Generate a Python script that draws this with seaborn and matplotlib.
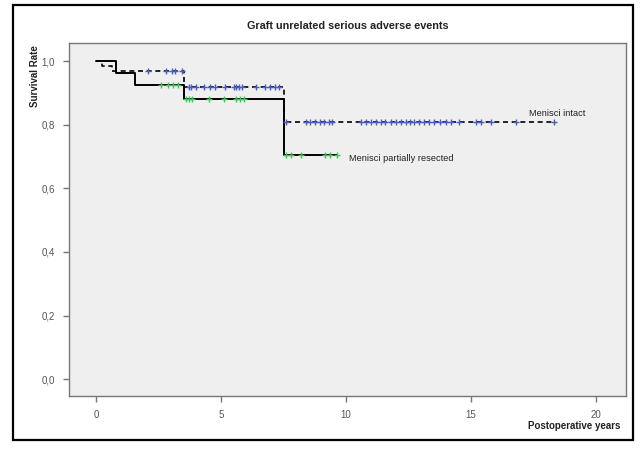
import numpy as np
import pandas as pd
import matplotlib.pyplot as plt
import seaborn as sns
from matplotlib.patches import Rectangle
from matplotlib.ticker import FuncFormatter

sns.set_theme(style='white')
plt.rcParams['font.family'] = ['Liberation Sans', 'DejaVu Sans']

# step curves: event times and survival after each step (last entry = end of follow-up)
resected_t = [0, 0.8, 1.55, 3.52, 7.52, 9.65]
resected_s = [1.0, 0.963, 0.926, 0.880, 0.704, 0.704]
intact_t = [0, 0.25, 0.65, 3.5, 7.5, 18.3]
intact_s = [1.0, 0.985, 0.970, 0.918, 0.808, 0.808]

# censored observations (years)
resected_cens = [2.6, 2.9, 3.1, 3.3, 3.6, 3.7, 3.85, 4.5, 5.1, 5.6, 5.75, 5.9,
                 7.6, 7.8, 8.2, 9.16, 9.36, 9.62]
intact_cens = [2.1, 2.8, 3.05, 3.15, 3.45,
               3.7, 3.8, 4.0, 4.3, 4.55, 4.75, 5.15, 5.5, 5.6, 5.7, 5.85, 6.4, 6.75, 6.95, 7.15, 7.3,
               7.6, 8.4, 8.55, 8.75, 8.95, 9.1, 9.3, 9.45, 10.6, 10.8, 11.0, 11.2, 11.4, 11.55, 11.8,
               12.0, 12.2, 12.4, 12.55, 12.7, 12.9, 13.1, 13.3, 13.5, 13.75, 14.0, 14.2, 14.5,
               15.2, 15.4, 15.8, 16.8, 18.3]

x_ticks = [0, 5, 10, 15, 20]
y_ticks = [0.0, 0.2, 0.4, 0.6, 0.8, 1.0]


def level_at(times, surv, pts):
    idx = np.searchsorted(times, pts, side='right') - 1
    return np.asarray(surv)[idx]


fig = plt.figure(figsize=(6.43, 4.51), dpi=100)
ax = fig.add_axes([0.1073, 0.122, 0.8663, 0.7827])
ax.set_facecolor('#efefef')

res_df = pd.DataFrame({'t': resected_t, 's': resected_s})
int_df = pd.DataFrame({'t': intact_t, 's': intact_s})

sns.lineplot(data=res_df, x='t', y='s', ax=ax, estimator=None, drawstyle='steps-post',
             color='black', lw=1.4)
sns.lineplot(data=int_df, x='t', y='s', ax=ax, estimator=None, drawstyle='steps-post',
             color='black', lw=1.2, dashes=False, linestyle=(0, (3, 2.2)))

res_c = pd.DataFrame({'t': resected_cens, 's': level_at(resected_t, resected_s, resected_cens)})
int_c = pd.DataFrame({'t': intact_cens, 's': level_at(intact_t, intact_s, intact_cens)})
sns.scatterplot(data=int_c, x='t', y='s', ax=ax, marker='+', s=24, color='#4a5cc0', linewidth=1.0, zorder=3)
sns.scatterplot(data=res_c, x='t', y='s', ax=ax, marker='+', s=24, color='#3cc45a', linewidth=1.0, zorder=3)

ax.text(17.3, 0.836, 'Menisci intact', fontsize=6.7, color='#222222', ha='left', va='center')
ax.text(10.1, 0.695, 'Menisci partially resected', fontsize=6.7, color='#222222', ha='left', va='center')

ax.set_xlim(-1.08, 21.2)
ax.set_ylim(-0.053, 1.057)
ax.set_xticks(x_ticks)
ax.set_yticks(y_ticks)
ax.yaxis.set_major_formatter(FuncFormatter(lambda v, p: f'{v:.1f}'.replace('.', ',')))
ax.tick_params(axis='both', which='major', direction='out', length=4, width=1, color='#777777',
               labelsize=7, labelcolor='#555555', pad=6, left=True, bottom=True)
ax.set_xlabel('')
ax.set_ylabel('')
for sp in ax.spines.values():
    sp.set_color('#777777')
    sp.set_linewidth(1.0)

fig.text(348 / 643, 1 - 26 / 451, 'Graft unrelated serious adverse events', fontsize=7.8,
         fontweight='bold', ha='center', va='center', color='#222222')
fig.text(35 / 643, 1 - 45 / 451, 'Survival Rate', fontsize=7, fontweight='bold', rotation=90,
         ha='center', va='top', color='#222222')
fig.text(620 / 643, 1 - 426 / 451, 'Postoperative years', fontsize=7, fontweight='bold',
         ha='right', va='center', color='#222222')

fig.patches.append(Rectangle((13 / 643, 1 - 440 / 451), 620 / 643, 435 / 451, transform=fig.transFigure,
                             fill=False, edgecolor='black', linewidth=1.6))

fig.savefig('out.png', dpi=100)
